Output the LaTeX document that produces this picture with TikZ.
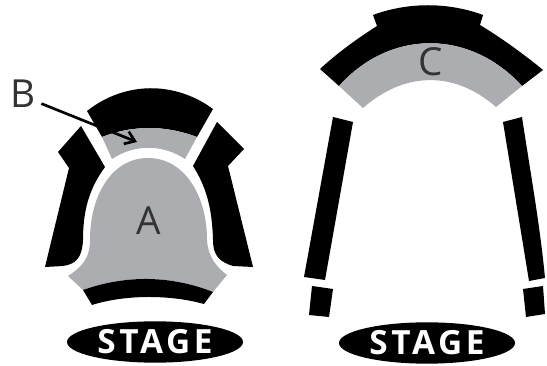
\documentclass[tikz,border=0pt]{standalone}
\usepackage{fontspec}
\usetikzlibrary{shapes.geometric,arrows.meta}
\setmainfont{Open Sans}
\newfontfamily\stagefont[LetterSpace=11]{Open Sans}
\definecolor{seat}{HTML}{ABADB0}
\definecolor{ink}{HTML}{333333}
\tikzset{
  x=0.75pt,y=-0.75pt,
  blk/.style={fill=black,draw=none},
  gry/.style={fill=seat,draw=none},
  stagebox/.style={ellipse,fill=black,inner sep=0pt,minimum width=132pt,minimum height=31pt,text=white,font=\stagefont\bfseries\fontsize{25}{25}\selectfont},
  zonelabel/.style={inner sep=0pt,text=ink,font=\fontsize{29}{29}\selectfont},
}
\begin{document}
\begin{tikzpicture}
\useasboundingbox (0,0) rectangle (547,366);
% left hall
\fill[blk] (87,111) .. controls (125,81) and (175,81) .. (213,109) -- (197,137) .. controls (165,125) and (133,125) .. (102,137) -- cycle;
\fill[gry] (102,137) .. controls (133,125) and (165,125) .. (197,137) -- (185,159) .. controls (162,144) and (135,144) .. (112,159) -- cycle;
\fill[blk] (81,126) -- (58,152) -- (69,168) -- (45,267) -- (63,266) .. controls (76,264) and (82,258) .. (83,240) .. controls (83,205) and (92,185) .. (105,167) -- cycle;
\fill[blk] (217,122) -- (244,149) -- (228,166) -- (253,267) -- (233,266) .. controls (220,262) and (213,256) .. (213,240) .. controls (212,205) and (205,185) .. (193,166) -- cycle;
\fill[gry] (90,240) .. controls (90,195) and (112,158) .. (148,158) .. controls (184,158) and (207,195) .. (207,240) .. controls (208,258) and (218,268) .. (227,275) -- (213,292) .. controls (170,275) and (125,275) .. (83,290) -- (68,276) .. controls (80,268) and (90,260) .. (90,240) -- cycle;
\fill[blk] (83,290) .. controls (125,275) and (170,275) .. (213,292) -- (204,304) .. controls (170,294.5) and (125,294.5) .. (92,305) -- cycle;
% right hall
\fill[blk] (320,69) .. controls (335,55) and (355,40) .. (377,26) -- (373,15) .. controls (408,2) and (448,2) .. (483,15) -- (480,25) .. controls (500,37) and (525,55) .. (543,70) -- (522,86) .. controls (470,29) and (390,29) .. (339,86) -- cycle;
\fill[gry] (339,86) .. controls (390,29) and (470,29) .. (522,86) -- (496,107) .. controls (455,71) and (405,71) .. (363,108) -- cycle;
\fill[blk] (333,117) -- (353,122) -- (325,280) -- (304,277) -- cycle;
\fill[blk] (312,286) -- (333,289) -- (329,317) -- (309,315) -- cycle;
\fill[blk] (503,122) -- (522,117) .. controls (530,170) and (540,225) .. (545,278) -- (529,281) -- cycle;
\fill[blk] (523,289) -- (543,286) -- (545,314) -- (526,317) -- cycle;
% labels
\node[zonelabel] (A) at (149,221) {A};
\node[zonelabel] (C) at (431,62) {C};
\node[zonelabel] (B) at (23,94) {B};
\coordinate (Bhead) at (137,142);
\draw[line width=2pt,black,shorten <=4.5pt,-{Straight Barb[length=7pt,width=10pt,line width=2pt]}] (B.-30) -- (Bhead);
% stages
\node[stagebox] (stageL) at (155,342) {STAGE};
\node[stagebox] (stageR) at (427,343) {STAGE};
\end{tikzpicture}
\end{document}
